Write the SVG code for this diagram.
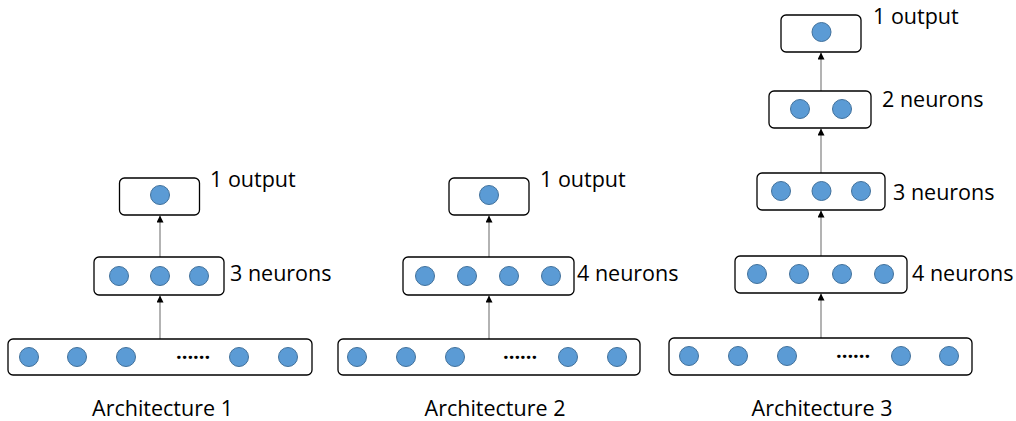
<svg xmlns="http://www.w3.org/2000/svg" width="1016" height="421" viewBox="0 0 1016 421">
  <style>
    .box { fill: #ffffff; stroke: #000000; stroke-width: 1.3; }
    .n { fill: #5B9BD5; stroke: #41719C; stroke-width: 1; }
    .lbl { font-family: "Open Sans", "Liberation Sans", sans-serif; font-size: 21.5px; fill: #000000; }
    .cap { font-family: "Open Sans", "Liberation Sans", sans-serif; font-size: 21.5px; fill: #000000; text-anchor: middle; }
    .dots { font-family: "Open Sans", "Liberation Sans", sans-serif; font-size: 20px; font-weight: bold; fill: #000000; }
    .edge { stroke: #808080; stroke-width: 1.2; fill: none; marker-end: url(#arrow); }
  </style>
  <defs>
    <marker id="arrow" viewBox="0 0 10 10" refX="10" refY="5" markerWidth="7" markerHeight="7" markerUnits="userSpaceOnUse" orient="auto">
      <path d="M0,0 L10,5 L0,10 z" fill="#000000"/>
    </marker>
  </defs>

  <rect width="1016" height="421" fill="#ffffff"/>

  <!-- connectors between layers -->
  <g id="connectors">
    <path class="edge" d="M160,339 V295.5"/>
    <path class="edge" d="M160,257 V215.5"/>
    <path class="edge" d="M489,339 V295.5"/>
    <path class="edge" d="M489,257 V215.5"/>
    <path class="edge" d="M821,338 V293.5"/>
    <path class="edge" d="M821,256 V210.5"/>
    <path class="edge" d="M821,173 V128.5"/>
    <path class="edge" d="M821,91 V52.5"/>
  </g>

  <!-- Architecture 1 -->
  <g id="a1-input">
    <rect class="box" x="8" y="339" width="304" height="36" rx="5"/>
    <circle class="n" cx="29" cy="357" r="9.5"/>
    <circle class="n" cx="77" cy="357" r="9.5"/>
    <circle class="n" cx="126" cy="357" r="9.5"/>
    <text class="dots" x="176" y="359">......</text>
    <circle class="n" cx="239" cy="357" r="9.5"/>
    <circle class="n" cx="288" cy="357" r="9.5"/>
  </g>
  <g id="a1-hidden">
    <rect class="box" x="94" y="257" width="130" height="38" rx="5"/>
    <circle class="n" cx="119" cy="276" r="9.5"/>
    <circle class="n" cx="160" cy="276" r="9.5"/>
    <circle class="n" cx="199" cy="276" r="9.5"/>
    <text class="lbl" x="230" y="281">3 neurons</text>
  </g>
  <g id="a1-output">
    <rect class="box" x="119.5" y="178" width="80" height="37" rx="5"/>
    <circle class="n" cx="160" cy="195" r="9.5"/>
    <text class="lbl" x="210" y="187">1 output</text>
  </g>
  <text class="cap" x="162.5" y="416">Architecture 1</text>

  <!-- Architecture 2 -->
  <g id="a2-input">
    <rect class="box" x="338" y="339" width="302" height="36" rx="5"/>
    <circle class="n" cx="357" cy="357" r="9.5"/>
    <circle class="n" cx="406" cy="357" r="9.5"/>
    <circle class="n" cx="455" cy="357" r="9.5"/>
    <text class="dots" x="503" y="359">......</text>
    <circle class="n" cx="568" cy="357" r="9.5"/>
    <circle class="n" cx="617" cy="357" r="9.5"/>
  </g>
  <g id="a2-hidden">
    <rect class="box" x="403" y="257" width="171" height="38" rx="5"/>
    <circle class="n" cx="425" cy="276" r="9.5"/>
    <circle class="n" cx="467" cy="276" r="9.5"/>
    <circle class="n" cx="509" cy="276" r="9.5"/>
    <circle class="n" cx="551" cy="276" r="9.5"/>
    <text class="lbl" x="577" y="281">4 neurons</text>
  </g>
  <g id="a2-output">
    <rect class="box" x="449" y="178" width="80" height="37" rx="5"/>
    <circle class="n" cx="489" cy="195" r="9.5"/>
    <text class="lbl" x="540" y="187">1 output</text>
  </g>
  <text class="cap" x="495" y="416">Architecture 2</text>

  <!-- Architecture 3 -->
  <g id="a3-input">
    <rect class="box" x="669" y="338" width="303" height="37" rx="5"/>
    <circle class="n" cx="689" cy="356" r="9.5"/>
    <circle class="n" cx="738" cy="356" r="9.5"/>
    <circle class="n" cx="787" cy="356" r="9.5"/>
    <text class="dots" x="836" y="358">......</text>
    <circle class="n" cx="901" cy="356" r="9.5"/>
    <circle class="n" cx="949" cy="356" r="9.5"/>
  </g>
  <g id="a3-hidden4">
    <rect class="box" x="735" y="256" width="172" height="37" rx="5"/>
    <circle class="n" cx="757" cy="274" r="9.5"/>
    <circle class="n" cx="799" cy="274" r="9.5"/>
    <circle class="n" cx="842" cy="274" r="9.5"/>
    <circle class="n" cx="884" cy="274" r="9.5"/>
    <text class="lbl" x="912" y="281">4 neurons</text>
  </g>
  <g id="a3-hidden3">
    <rect class="box" x="757" y="173" width="128" height="37" rx="5"/>
    <circle class="n" cx="781" cy="191" r="9.5"/>
    <circle class="n" cx="821.5" cy="191" r="9.5"/>
    <circle class="n" cx="861" cy="191" r="9.5"/>
    <text class="lbl" x="893" y="200">3 neurons</text>
  </g>
  <g id="a3-hidden2">
    <rect class="box" x="769" y="91" width="102" height="37" rx="5"/>
    <circle class="n" cx="800" cy="109" r="9.5"/>
    <circle class="n" cx="842" cy="109" r="9.5"/>
    <text class="lbl" x="882" y="107">2 neurons</text>
  </g>
  <g id="a3-output">
    <rect class="box" x="781" y="15" width="80" height="37" rx="5"/>
    <circle class="n" cx="821.5" cy="32" r="9.5"/>
    <text class="lbl" x="873" y="24">1 output</text>
  </g>
  <text class="cap" x="822" y="416">Architecture 3</text>
</svg>
